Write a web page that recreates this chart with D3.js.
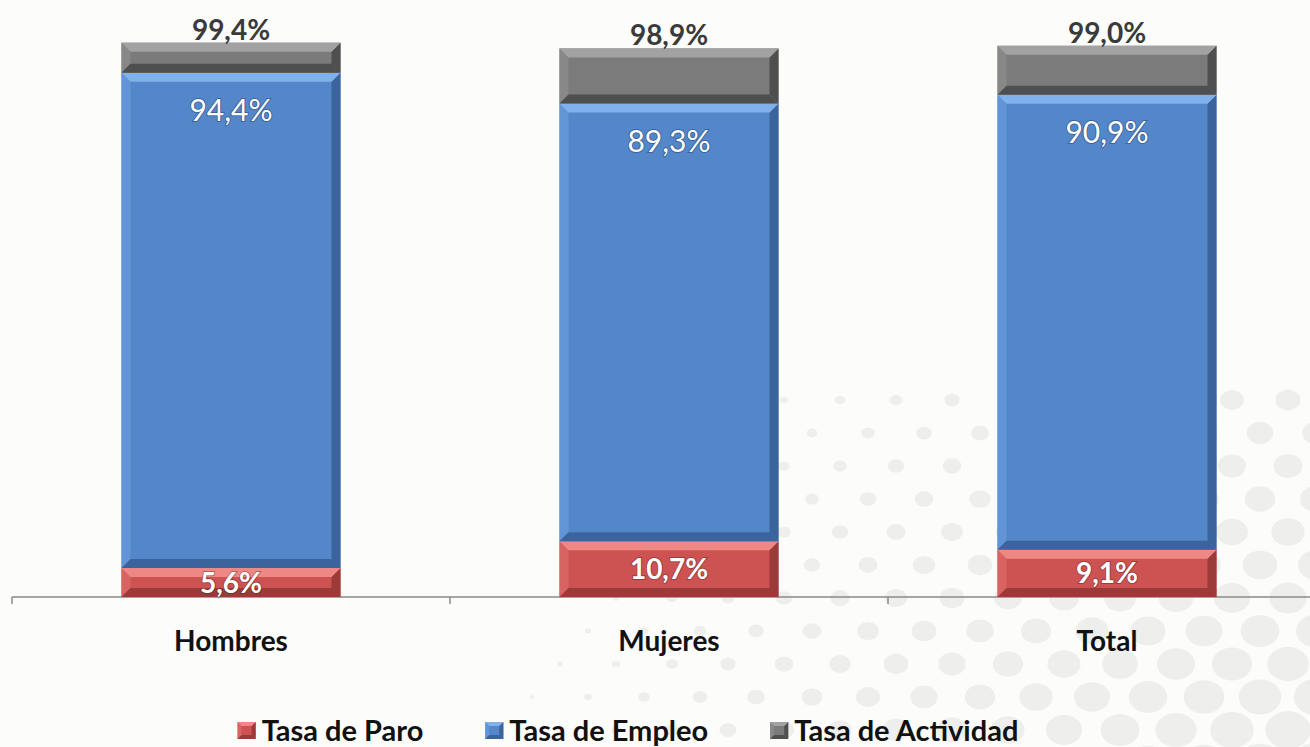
<!DOCTYPE html>
<html>
<head>
<meta charset="utf-8">
<script src="https://cdn.jsdelivr.net/npm/d3@7"></script>
<style>
  html, body { margin: 0; padding: 0; background: #fcfcfa; }
  svg { display: block; font-family: Lato, "Open Sans", sans-serif; }
</style>
</head>
<body>
<div id="canva"><svg></svg></div>
<script>
const width = 1310;
const height = 747;

// categories and series (segment heights as drawn, labels as printed)
const categories = ['Hombres', 'Mujeres', 'Total'];
const paro = [5.6, 10.7, 9.1];
const empleo = [95.2, 84.2, 87.5];
const actividad = [5.8, 10.6, 9.4];
const tasaEmpleo = [94.4, 89.3, 90.9];
const tasaActividad = [99.4, 98.9, 99.0];
const series = ['Tasa de Paro', 'Tasa de Empleo', 'Tasa de Actividad'];

const colors = {
  'Tasa de Paro':      {base: '#cd5352', light: '#ee8884', side: '#d86461', dark: '#9a3b39'},
  'Tasa de Empleo':    {base: '#5487c9', light: '#80b1ea', side: '#6195d6', dark: '#3b649c'},
  'Tasa de Actividad': {base: '#7b7b7b', light: '#a2a2a2', side: '#888888', dark: '#4f4f4f'}
};

const es = d3.formatLocale({decimal: ',', thousands: '.', grouping: [3], currency: ['', '€']});
const pct = v => es.format('.1f')(v) + '%';

const table = categories.map((c, i) => ({
  cat: c,
  'Tasa de Paro': paro[i],
  'Tasa de Empleo': empleo[i],
  'Tasa de Actividad': actividad[i]
}));

const stacked = d3.stack().keys(series)(table);

const svg = d3.select('#canva').select('svg')
  .attr('width', width)
  .attr('height', height);

// background dot pattern (decoration, bottom right)
const dots = [];
for (let row = 0; row < 12; row++) {
  for (let col = 0; col < 28; col++) {
    const cx = col * 56 + (row % 2) * 28;
    const cy = 400 + row * 33;
    const d = Math.hypot(1450 - cx, 1050 - cy);
    const r = 30 * (1 - d / 1050);
    if (r > 1.5) dots.push({cx, cy, r});
  }
}
svg.append('g')
  .selectAll('ellipse')
  .data(dots)
  .join('ellipse')
  .attr('cx', d => d.cx)
  .attr('cy', d => d.cy)
  .attr('rx', d => d.r * 1.15)
  .attr('ry', d => d.r * 0.95)
  .attr('fill', '#eeeeec');

const x = d3.scaleBand()
  .domain(categories)
  .range([12, 1326])
  .paddingInner(0.5)
  .paddingOuter(0.25);

const y = d3.scaleLinear()
  .domain([0, 100])
  .range([597, 77]);

// axis
const axis = svg.append('g')
  .attr('transform', `translate(0,${y(0)})`)
  .call(d3.axisBottom(x).tickSize(0).tickFormat(''));
axis.select('.domain').remove();
axis.append('line')
  .attr('x1', 12).attr('x2', width)
  .attr('stroke', '#8a8a8a').attr('stroke-width', 1.5);
axis.selectAll('.sep')
  .data(d3.range(categories.length + 1))
  .join('line')
  .attr('class', 'sep')
  .attr('x1', i => 12 + i * x.step())
  .attr('x2', i => 12 + i * x.step())
  .attr('y1', 0).attr('y2', 7)
  .attr('stroke', '#8a8a8a').attr('stroke-width', 1.5);

function bevel(sel, b) {
  // sel bound to {x, y0, y1, w, col}
  const poly = (pts) => pts.map(p => p.join(',')).join(' ');
  sel.append('rect')
    .attr('x', d => d.x).attr('y', d => d.y1)
    .attr('width', d => d.w).attr('height', d => d.y0 - d.y1)
    .attr('fill', d => d.col.base);
  sel.append('polygon')   // left
    .attr('points', d => { const bb = Math.min(b, (d.y0 - d.y1) / 2);
      return poly([[d.x, d.y1], [d.x + bb, d.y1 + bb], [d.x + bb, d.y0 - bb], [d.x, d.y0]]); })
    .attr('fill', d => d.col.side);
  sel.append('polygon')   // right
    .attr('points', d => { const bb = Math.min(b, (d.y0 - d.y1) / 2);
      return poly([[d.x + d.w, d.y1], [d.x + d.w - bb, d.y1 + bb], [d.x + d.w - bb, d.y0 - bb], [d.x + d.w, d.y0]]); })
    .attr('fill', d => d.col.dark);
  sel.append('polygon')   // top
    .attr('points', d => { const bb = Math.min(b, (d.y0 - d.y1) / 2);
      return poly([[d.x, d.y1], [d.x + d.w, d.y1], [d.x + d.w - bb, d.y1 + bb], [d.x + bb, d.y1 + bb]]); })
    .attr('fill', d => d.col.light);
  sel.append('polygon')   // bottom
    .attr('points', d => { const bb = Math.min(b, (d.y0 - d.y1) / 2);
      return poly([[d.x, d.y0], [d.x + d.w, d.y0], [d.x + d.w - bb, d.y0 - bb], [d.x + bb, d.y0 - bb]]); })
    .attr('fill', d => d.col.dark);
}

// bars
svg.append('g')
  .selectAll('g')
  .data(stacked)
  .join('g')
  .selectAll('g')
  .data(s => s.map(d => ({
    x: x(d.data.cat), w: x.bandwidth(),
    y0: y(d[0]), y1: y(d[1]), col: colors[s.key], key: s.key, cat: d.data.cat
  })))
  .join('g')
  .call(bevel, 9);

// labels: paro (in segment)
const paroLayer = stacked[0];
svg.append('g')
  .selectAll('text')
  .data(paroLayer)
  .join('text')
  .attr('x', d => x(d.data.cat) + x.bandwidth() / 2)
  .attr('y', d => (y(d[0]) + y(d[1])) / 2)
  .attr('dy', '0.36em')
  .attr('text-anchor', 'middle')
  .attr('font-size', 28)
  .attr('font-weight', 'bold')
  .attr('fill', '#fff')
  .style('paint-order', 'stroke')
  .attr('stroke', 'rgba(60,20,20,0.35)')
  .attr('stroke-width', 2)
  .text((d, i) => pct(paro[i]));

// labels: empleo (near top of blue)
const empLayer = stacked[1];
svg.append('g')
  .selectAll('text')
  .data(empLayer)
  .join('text')
  .attr('x', d => x(d.data.cat) + x.bandwidth() / 2)
  .attr('y', d => y(d[1]) + 48)
  .attr('text-anchor', 'middle')
  .attr('font-size', 30)
  .attr('fill', '#fff')
  .style('paint-order', 'stroke')
  .attr('stroke', 'rgba(20,40,80,0.4)')
  .attr('stroke-width', 2)
  .text((d, i) => pct(tasaEmpleo[i]));

// labels: actividad (above bar)
const actLayer = stacked[2];
svg.append('g')
  .selectAll('text')
  .data(actLayer)
  .join('text')
  .attr('x', d => x(d.data.cat) + x.bandwidth() / 2)
  .attr('y', d => y(d[1]) - 3)
  .attr('text-anchor', 'middle')
  .attr('font-size', 28)
  .attr('font-weight', 'bold')
  .attr('fill', '#3a3a3a')
  .text((d, i) => pct(tasaActividad[i]));

// category names
svg.append('g')
  .selectAll('text')
  .data(categories)
  .join('text')
  .attr('x', d => x(d) + x.bandwidth() / 2)
  .attr('y', 651)
  .attr('text-anchor', 'middle')
  .attr('font-size', 28)
  .attr('font-weight', 'bold')
  .attr('fill', '#111')
  .text(d => d);

// legend
const legend = svg.append('g');
const items = legend.selectAll('g')
  .data(series)
  .join('g');
items.append('text')
  .attr('x', 24)
  .attr('y', 0)
  .attr('font-size', 29)
  .attr('font-weight', 'bold')
  .attr('fill', '#111')
  .text(d => d);
items.append('g')
  .datum(d => ({x: 0, y0: -2, y1: -19, w: 18, col: colors[d]}))
  .call(bevel, 4);

const gap = 62;
let cursor = 0;
const offsets = [];
items.each(function() {
  offsets.push(cursor);
  const tw = d3.select(this).select('text').node().getComputedTextLength();
  cursor += 24 + tw + gap;
});
const total = cursor - gap;
const lx = 628 - total / 2;
items.attr('transform', (d, i) => `translate(${lx + offsets[i]},741)`);
</script>
</body>
</html>
